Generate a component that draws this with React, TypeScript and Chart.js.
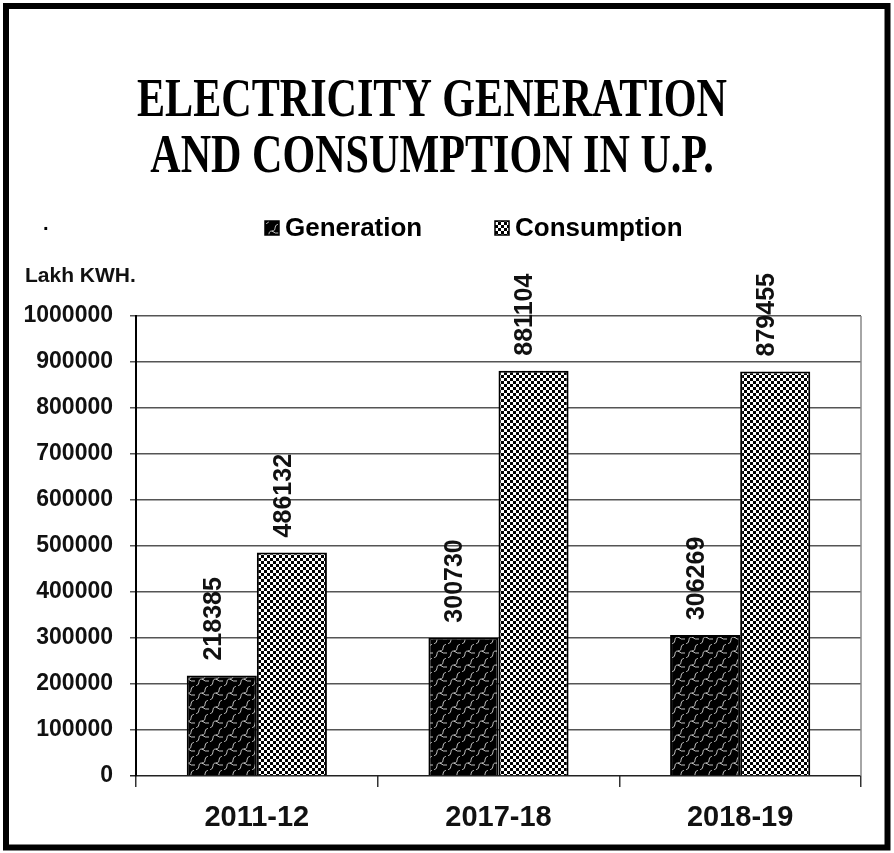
import React, { useEffect, useRef } from "react";
import { Chart, registerables } from "chart.js";

Chart.register(...registerables);

const categories = ["2011-12", "2017-18", "2018-19"];
const generation = [218385, 300730, 306269];
const consumption = [486132, 881104, 879455];
const seriesNames = ["Generation", "Consumption"];
const titleLines = ["ELECTRICITY GENERATION", "AND CONSUMPTION IN U.P."];
const unitLabel = "Lakh KWH.";
const yMax = 1000000;
const yStep = 100000;

function makeGenPattern(): CanvasPattern | string {
  const c = document.createElement("canvas");
  c.width = 14;
  c.height = 14;
  const g = c.getContext("2d");
  if (!g) return "#000";
  g.fillStyle = "#000";
  g.fillRect(0, 0, 14, 14);
  g.strokeStyle = "rgba(255,255,255,0.85)";
  g.lineWidth = 0.9;
  for (const dx of [-14, 0, 14]) {
    g.beginPath();
    g.moveTo(dx + 0, 14);
    g.bezierCurveTo(dx + 5, 12, dx + 1, 7, dx + 6, 7);
    g.bezierCurveTo(dx + 11, 7, dx + 7, 2, dx + 12, 0);
    g.stroke();
    g.beginPath();
    g.moveTo(dx + 6, 7);
    g.quadraticCurveTo(dx + 9, 10, dx + 13, 9);
    g.stroke();
  }
  const p = g.createPattern(c, "repeat");
  return p || "#000";
}

function makeConsPattern(): CanvasPattern | string {
  const c = document.createElement("canvas");
  c.width = 6;
  c.height = 6;
  const g = c.getContext("2d");
  if (!g) return "#888";
  g.fillStyle = "#fff";
  g.fillRect(0, 0, 6, 6);
  g.fillStyle = "#000";
  g.fillRect(0, 0, 3, 3);
  g.fillRect(3, 3, 3, 3);
  const p = g.createPattern(c, "repeat");
  return p || "#888";
}

export default function App() {
  const ref = useRef<HTMLCanvasElement | null>(null);

  useEffect(() => {
    document.body.style.margin = "0";
    const canvas = ref.current;
    if (!canvas) return;
    const genPat = makeGenPattern();
    const consPat = makeConsPattern();

    const decor = {
      id: "decor",
      beforeDraw(chart: any) {
        const ctx = chart.ctx;
        ctx.save();
        ctx.fillStyle = "#fff";
        ctx.fillRect(0, 0, chart.width, chart.height);
        ctx.restore();
      },
      afterDraw(chart: any) {
        const ctx = chart.ctx;
        const ca = chart.chartArea;
        ctx.save();
        // frame
        ctx.strokeStyle = "#000";
        ctx.lineWidth = 6;
        ctx.strokeRect(6, 6, chart.width - 12.5, chart.height - 11.5);
        // plot right border
        ctx.strokeStyle = "#888";
        ctx.lineWidth = 1.5;
        ctx.beginPath();
        ctx.moveTo(ca.right, ca.top);
        ctx.lineTo(ca.right, ca.bottom);
        ctx.stroke();

        // title (condensed serif)
        ctx.fillStyle = "#000";
        ctx.font = 'bold 55px "Liberation Serif", serif';
        ctx.textBaseline = "alphabetic";
        ctx.textAlign = "center";
        const w0 = ctx.measureText(titleLines[0]).width;
        const sx = 590 / w0;
        const cx = 432;
        const baselines = [116, 172];
        titleLines.forEach((t, i) => {
          ctx.save();
          ctx.translate(cx, baselines[i]);
          ctx.scale(sx, 1);
          ctx.fillText(t, 0, 0);
          ctx.restore();
        });

        // legend
        ctx.font = 'bold 26px "Liberation Sans", Arial, sans-serif';
        ctx.textAlign = "left";
        ctx.textBaseline = "middle";
        const legendX = [265, 495];
        const pats = [genPat, consPat];
        seriesNames.forEach((n, i) => {
          ctx.fillStyle = pats[i];
          ctx.fillRect(legendX[i], 221, 14, 14);
          ctx.strokeStyle = "#000";
          ctx.lineWidth = 1.5;
          ctx.strokeRect(legendX[i], 221, 14, 14);
          ctx.fillStyle = "#000";
          ctx.fillText(n, legendX[i] + 20, 229);
        });
        ctx.font = 'bold 20px "Liberation Sans", Arial, sans-serif';
        ctx.fillText(".", 43, 224);

        // unit label
        ctx.font = 'bold 21px "Liberation Sans", Arial, sans-serif';
        ctx.fillStyle = "#111";
        ctx.fillText(unitLabel, 25, 276);

        // data labels
        ctx.font = 'bold 25px "Liberation Sans", Arial, sans-serif';
        ctx.textAlign = "left";
        ctx.textBaseline = "middle";
        chart.data.datasets.forEach((ds: any, di: number) => {
          const meta = chart.getDatasetMeta(di);
          meta.data.forEach((el: any, j: number) => {
            ctx.save();
            ctx.translate(el.x - 8, el.y - 15);
            ctx.rotate(-Math.PI / 2);
            ctx.fillStyle = "#111";
            ctx.fillText(String(ds.data[j]), 0, 0);
            ctx.restore();
          });
        });
        ctx.restore();
      },
    };

    const chart = new Chart(canvas, {
      type: "bar",
      data: {
        labels: categories,
        datasets: [
          {
            label: seriesNames[0],
            data: generation,
            backgroundColor: genPat as any,
            borderColor: "#000",
            borderWidth: 2,
            categoryPercentage: 0.58,
            barPercentage: 1.0,
          },
          {
            label: seriesNames[1],
            data: consumption,
            backgroundColor: consPat as any,
            borderColor: "#000",
            borderWidth: 2,
            categoryPercentage: 0.58,
            barPercentage: 1.0,
          },
        ],
      },
      options: {
        responsive: false,
        animation: false,
        layout: { padding: { left: 0, top: 316, right: 33, bottom: 0 } },
        plugins: {
          legend: { display: false },
          title: { display: false },
          tooltip: { enabled: false },
        },
        scales: {
          x: {
            afterFit: (s: any) => {
              s.height = 77;
            },
            grid: {
              display: true,
              drawOnChartArea: false,
              drawTicks: true,
              tickLength: 11,
              color: "#333",
              lineWidth: 1.5,
              offset: true,
            },
            border: { display: false },
            ticks: {
              color: "#111",
              padding: 14,
              font: { family: '"Liberation Sans", Arial, sans-serif', size: 29, weight: "bold" },
            },
          },
          y: {
            min: 0,
            max: yMax,
            afterFit: (s: any) => {
              s.width = 136;
            },
            grid: {
              color: (c: any) => (c.tick && c.tick.value === 0 ? "#222" : "#555"),
              lineWidth: 1.5,
              drawTicks: true,
              tickLength: 6,
            },
            border: { display: true, color: "#000", width: 2 },
            ticks: {
              stepSize: yStep,
              color: "#111",
              padding: 17,
              font: { family: '"Liberation Sans", Arial, sans-serif', size: 23, weight: "bold" },
              callback: (v: any) => String(v),
            },
          },
        },
      },
      plugins: [decor],
    });
    return () => chart.destroy();
  }, []);

  return <canvas ref={ref} width={894} height={853} style={{ display: "block" }} />;
}
